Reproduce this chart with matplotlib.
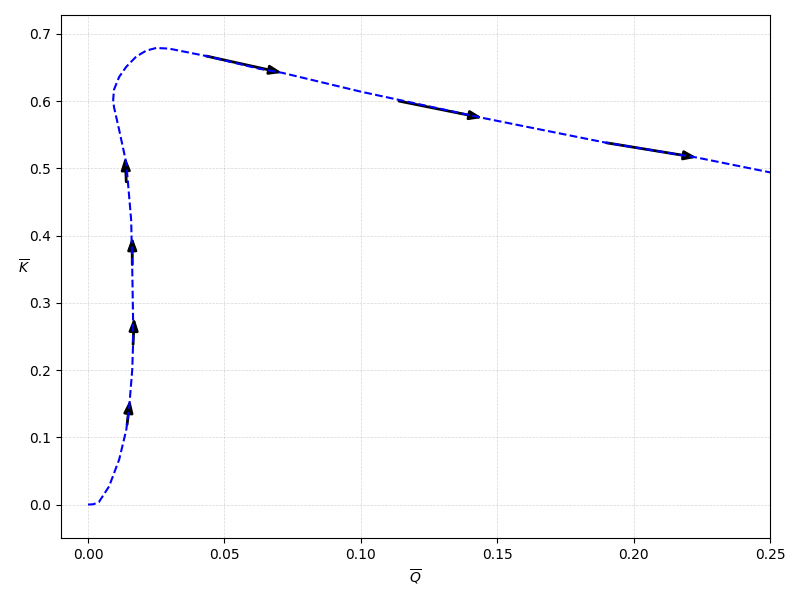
"""
Phase trajectory K-bar vs Q-bar, dashed blue curve with direction arrows.
"""

import matplotlib
matplotlib.use("Agg")
import matplotlib.pyplot as plt

# -----------------------
# Data
# -----------------------
q_bar = [0.0, 0.0020, 0.0040, 0.0077, 0.0114, 0.0140, 0.0151, 0.0162, 0.0165,
         0.0165, 0.0162, 0.0158, 0.0140, 0.0114, 0.0095, 0.0092, 0.0095,
         0.0114, 0.0140, 0.0176, 0.0213, 0.0250, 0.0297, 0.0334, 0.0433,
         0.0628, 0.0712, 0.100, 0.1446, 0.190, 0.2232, 0.25, 0.26]
k_bar = [0.0, 0.0005, 0.004, 0.027, 0.067, 0.111, 0.146, 0.201, 0.240,
         0.275, 0.349, 0.423, 0.508, 0.557, 0.591, 0.602, 0.617,
         0.636, 0.651, 0.666, 0.675, 0.679, 0.678, 0.675, 0.667,
         0.648, 0.642, 0.614, 0.575, 0.538, 0.516, 0.494, 0.487]

# arrow tails and tips
arrow_q0 = [0.0143, 0.0165, 0.0162, 0.0140, 0.0433, 0.114, 0.190]
arrow_k0 = [0.119, 0.238, 0.357, 0.480, 0.667, 0.600, 0.538]
arrow_q1 = [0.0154, 0.0169, 0.0162, 0.0136, 0.0712, 0.1446, 0.2232]
arrow_k1 = [0.156, 0.278, 0.398, 0.517, 0.642, 0.575, 0.516]

# -----------------------
# Plot
# -----------------------
fig = plt.figure(figsize=(8, 6), dpi=100)
ax = fig.add_axes([0.076, 0.103, 0.8865, 0.872])

ax.plot(q_bar, k_bar, linestyle="--", color="blue", lw=1.5, zorder=3)

for x0, y0, x1, y1 in zip(arrow_q0, arrow_k0, arrow_q1, arrow_k1):
    ax.annotate("", xy=(x1, y1), xytext=(x0, y0),
                arrowprops=dict(arrowstyle="-|>,head_length=0.6,head_width=0.22",
                                color="black", lw=2, mutation_scale=12,
                                shrinkA=0, shrinkB=0),
                zorder=2)

ax.set_xlim(-0.01, 0.25)
ax.set_ylim(-0.05, 0.728)
ax.set_xlabel(r"$\overline{Q}$")
ax.set_ylabel(r"$\overline{K}$", rotation=0)
ax.grid(True, linestyle="--", linewidth=0.5, alpha=0.5)

plt.savefig("out.png")
